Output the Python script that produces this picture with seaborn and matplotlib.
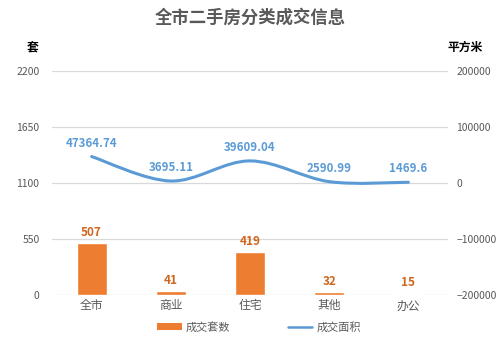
import matplotlib
matplotlib.use("Agg")
import matplotlib.pyplot as plt
from matplotlib.path import Path
from matplotlib.patches import PathPatch, Patch
from matplotlib.lines import Line2D
import seaborn as sns
import pandas as pd

categories = ["全市", "商业", "住宅", "其他", "办公"]
units_sold = [507, 41, 419, 32, 15]
area_sold = [47364.74, 3695.11, 39609.04, 2590.99, 1469.6]
area_labels = ["47364.74", "3695.11", "39609.04", "2590.99", "1469.6"]
left_ticks = [0, 550, 1100, 1650, 2200]
right_ticks = [-200000, -100000, 0, 100000, 200000]

ORANGE = "#ED7D31"
BLUE = "#5B9BD5"
GRID = "#D9D9D9"
TXT = "#595959"

sns.set_theme(style="white")
plt.rcParams["font.family"] = ["Noto Sans CJK SC", "DejaVu Sans"]

fig = plt.figure(figsize=(5.0, 3.4), dpi=100)
ax = fig.add_axes([0.104, 0.132, 0.792, 0.659])

df = pd.DataFrame({"cat": categories, "units": units_sold})
sns.barplot(data=df, x="cat", y="units", color=ORANGE, saturation=1,
            width=0.38, ax=ax, zorder=3)

ax.set_ylim(0, 2200)
ax.set_yticks(left_ticks)
ax.set_yticklabels([str(t) for t in left_ticks], fontsize=7.5, color=TXT)
ax.set_xlim(-0.5, len(categories) - 0.5)
ax.set_xlabel("")
ax.set_ylabel("")
ax.tick_params(axis="x", labelsize=8.5, colors=TXT, length=0, pad=3)
ax.tick_params(axis="y", length=0, pad=9)
for s in ax.spines.values():
    s.set_visible(False)
ax.grid(axis="y", color=GRID, linewidth=0.9, zorder=0)
ax.set_axisbelow(True)

for i, v in enumerate(units_sold):
    ax.annotate(str(v), (i, v), xytext=(0, 3), textcoords="offset points",
                ha="center", va="bottom", fontsize=8.5, fontweight="bold",
                color="#D0651E", zorder=5)

ax2 = ax.twinx()
ax2.set_ylim(-200000, 200000)
ax2.set_yticks(right_ticks)
ax2.set_yticklabels([str(t).replace("-", "\u2212") for t in right_ticks],
                    fontsize=7.5, color=TXT)
ax2.tick_params(axis="y", length=0, pad=6)
for s in ax2.spines.values():
    s.set_visible(False)

# smoothed line through the area values (Catmull-Rom as cubic Bezier)
xs = list(range(len(area_sold)))
pts = list(zip(xs, area_sold))
verts = [pts[0]]
codes = [Path.MOVETO]
n = len(pts)
for i in range(n - 1):
    p0 = pts[i - 1] if i > 0 else pts[i]
    p1 = pts[i]
    p2 = pts[i + 1]
    p3 = pts[i + 2] if i + 2 < n else pts[i + 1]
    c1 = (p1[0] + (p2[0] - p0[0]) / 6, p1[1] + (p2[1] - p0[1]) / 6)
    c2 = (p2[0] - (p3[0] - p1[0]) / 6, p2[1] - (p3[1] - p1[1]) / 6)
    verts += [c1, c2, p2]
    codes += [Path.CURVE4] * 3
ax2.add_patch(PathPatch(Path(verts, codes), facecolor="none", edgecolor=BLUE,
                        linewidth=2.2, capstyle="round", zorder=4))

for i, (v, lab) in enumerate(zip(area_sold, area_labels)):
    ax2.annotate(lab, (i, v), xytext=(0, 5), textcoords="offset points",
                 ha="center", va="bottom", fontsize=8.3, fontweight="bold",
                 color=BLUE, zorder=5)

fig.text(0.5, 0.948, "全市二手房分类成交信息", ha="center", va="center",
         fontsize=12.5, fontweight="bold", color=TXT)
fig.text(0.066, 0.862, "套", ha="center", va="center", fontsize=8.5,
         fontweight="bold", color="black")
fig.text(0.93, 0.862, "平方米", ha="center", va="center", fontsize=8.5,
         fontweight="bold", color="black")

handles = [Patch(facecolor=ORANGE, edgecolor="none"),
           Line2D([0], [0], color=BLUE, linewidth=1.8)]
fig.legend(handles, ["成交套数", "成交面积"], loc="center",
           bbox_to_anchor=(0.518, 0.038), ncol=2, frameon=False,
           fontsize=8, labelcolor=TXT, handlelength=2.2, handleheight=0.65,
           columnspacing=5.2, handletextpad=0.35)

fig.savefig("out.png", dpi=100)
